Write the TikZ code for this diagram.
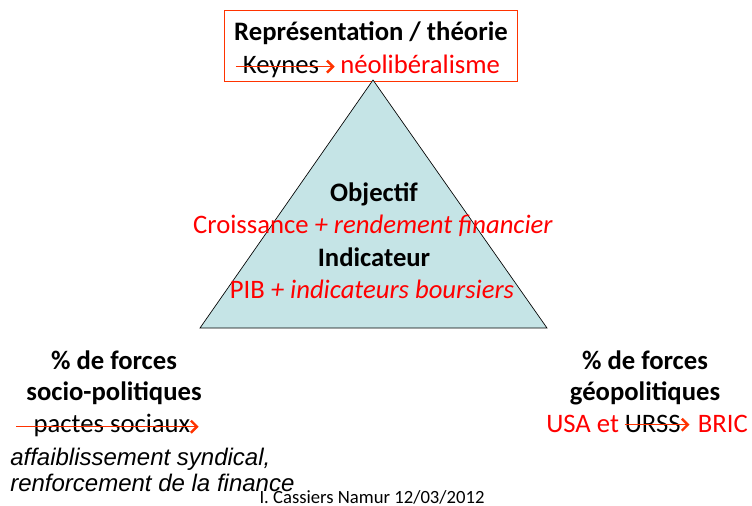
\documentclass[tikz,border=0pt]{standalone}
\usepackage{fontspec}
\setmainfont{Carlito}
\newfontfamily\arialfont{Liberation Sans}
\usepackage{xcolor}
\usetikzlibrary{positioning, arrows.meta}

\definecolor{slidered}{RGB}{255,0,0}
\definecolor{arrowred}{RGB}{255,51,0}
\definecolor{trianglefill}{RGB}{197,228,230}

\begin{document}
\begin{tikzpicture}[
    x=0.75pt, y=-0.75pt,
    heading/.style={inner sep=0pt, anchor=base, font=\fontsize{20}{24}\selectfont\bfseries},
    plain/.style={inner sep=0pt, anchor=base, font=\fontsize{20}{24}\selectfont},
    redtext/.style={plain, text=slidered},
    arialit/.style={inner sep=0pt, anchor=base west, font=\fontsize{18}{22}\arialfont\itshape},
    strike/.style={arrowred, line width=1.1pt, -{Straight Barb[length=4.5pt, width=9pt, line width=1.8pt]}}
]
\useasboundingbox (0,0) rectangle (752,506);

% Theory box
\draw[arrowred, line width=0.6pt] (224,10) rectangle (517,81);
\node[heading] (theory) at (371,41) {Représentation / théorie};
\node[plain] (keynes) at (281,74) {Keynes};
\node[redtext, anchor=base west] (neolib) at (340,74) {néolibéralisme};
\draw[strike] ([xshift=-5pt, yshift=5.5pt]keynes.base west) -- ([xshift=-4pt, yshift=5.5pt]neolib.base west);

% Triangle
\filldraw[fill=trianglefill, draw=black, line width=0.5pt] (373,80) -- (547,328) -- (200,328) -- cycle;
\node[heading] (objective) at (374,201) {Objectif};
\node[redtext] (growth) at (373,233) {Croissance \textit{+ rendement financier}};
\node[heading] (indicator) at (374,266) {Indicateur};
\node[redtext] (gdp) at (372,298) {PIB \textit{+ indicateurs boursiers}};

% Socio-political forces
\node[heading] (socioforces) at (114,369) {\% de forces};
\node[heading] (sociopol) at (114,400) {socio-politiques};
\node[plain] (pacts) at (112,432) {pactes sociaux};
\draw[strike] ([xshift=-13pt, yshift=4pt]pacts.base west) -- ([xshift=6pt, yshift=4pt]pacts.base east);
\node[arialit] (weakening) at (10,465) {affaiblissement syndical,};
\node[arialit] (finance) at (10,491) {renforcement de la finance};

% Geopolitical forces
\node[heading] (geoforces) at (645,369) {\% de forces};
\node[heading] (geopol) at (645,400) {géopolitiques};
\node[redtext, anchor=base west] (usa) at (546,432) {USA et};
\node[plain, right=4pt of usa.base east, anchor=base west] (ussr) {URSS};
\node[redtext, anchor=base east] (bric) at (748,432) {BRIC};
\draw[strike] ([yshift=5.5pt]ussr.base west) -- ([xshift=-6pt, yshift=5.5pt]bric.base west);

% Credit
\node[inner sep=0pt, anchor=base, font=\fontsize{14}{16}\selectfont] (credit) at (372,503) {I. Cassiers Namur 12/03/2012};

\end{tikzpicture}
\end{document}
